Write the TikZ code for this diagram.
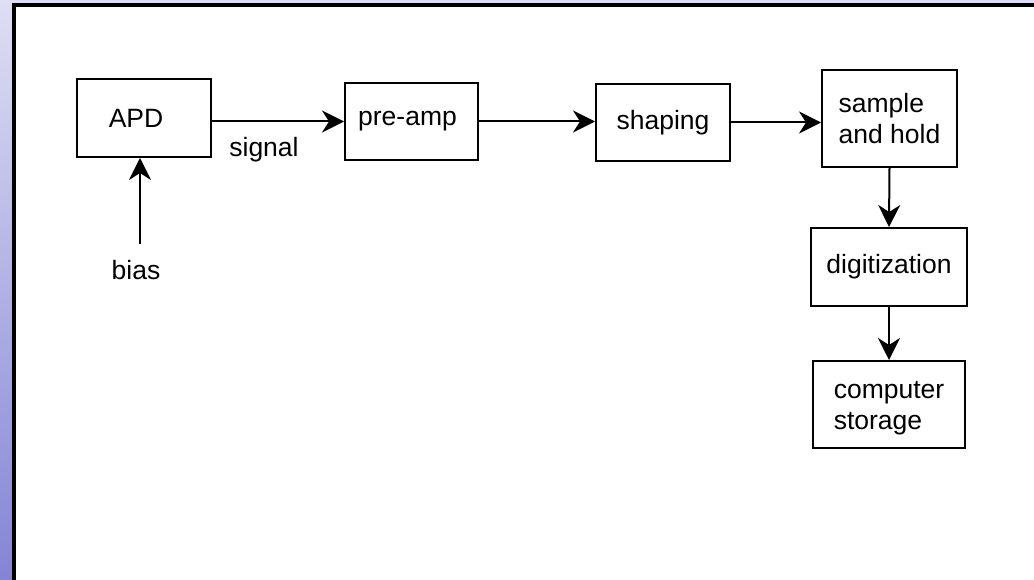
\documentclass[tikz,border=0pt]{standalone}
\usepackage{fontspec}
\setmainfont{Liberation Sans}
\usetikzlibrary{arrows.meta}
\definecolor{lavtop}{HTML}{DEDEF4}
\definecolor{lavbot}{HTML}{8484D6}
\begin{document}
\begin{tikzpicture}[x=1pt,y=-1pt,
  box/.style={draw=black,line width=2pt,inner sep=0pt,font=\fontsize{26.5}{31}\selectfont,align=left},
  arr/.style={draw=black,line width=2pt,-{Stealth[length=22pt,width=22pt,inset=7pt]}},
  lbl/.style={inner sep=0pt,font=\fontsize{26.5}{31}\selectfont}]
\useasboundingbox (0,0) rectangle (1034,580);
% frame
\fill[white] (0,0) rectangle (1034,580);
\shade[top color=lavtop,bottom color=lavbot] (0,0) rectangle (12,580);
\fill[lavtop] (0,0) rectangle (1034,3);
\fill[black] (12,3) rectangle (1034,7);
\fill[black] (12,3) rectangle (16,580);
% boxes
\node[box,minimum width=134pt,minimum height=78pt] (apd) at (144,118) {\kern-16pt APD};
\node[box,minimum width=133pt,minimum height=77pt] (pre) at (411.5,121.5) {\kern-8pt pre-amp};
\node[box,minimum width=134pt,minimum height=77pt] (shp) at (663,122.5) {shaping};
\node[box,minimum width=135pt,minimum height=97pt] (sah) at (889.5,118.5) {sample\\and hold};
\node[box,minimum width=156pt,minimum height=78pt] (dig) at (889,267) {digitization};
\node[box,minimum width=152pt,minimum height=87pt] (sto) at (889,404.5) {\\[-6pt]computer\\storage};
% labels
\node[lbl] (sig) at (264,150) {signal};
\node[lbl] (bias) at (136,270) {bias};
\coordinate (biasc) at (140,244);
% connectors
\draw[arr] (apd.east |- pre.west) -- (pre.west);
\draw[arr] (pre.east) -- (shp.west |- pre.east);
\draw[arr] (shp.east) -- (sah.west |- shp.east);
\draw[arr] (sah.south) -- (dig.north);
\draw[arr] (dig.south) -- (sto.north);
\draw[arr] (biasc) -- (biasc |- apd.south);
\end{tikzpicture}
\end{document}
